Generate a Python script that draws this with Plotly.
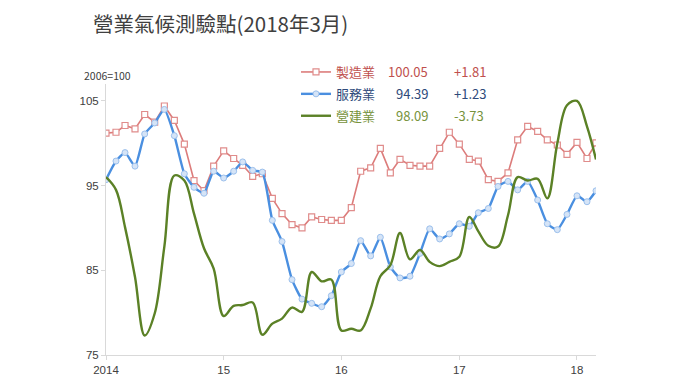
import plotly.graph_objects as go
import pandas as pd

months = pd.date_range("2014-01-01", "2018-03-01", freq="MS").strftime("%Y-%m-%d").tolist()

manufacturing = [101.2, 101.3, 102.1, 101.7, 103.4, 102.5, 104.4, 102.7, 99.9, 95.6,
                 94.4, 97.3, 99.1, 98.2, 97.4, 96.1, 96.4, 93.5, 91.7, 90.4,
                 90.0, 91.3, 91.0, 90.9, 90.9, 92.4, 96.7, 97.1, 99.4, 96.5,
                 98.1, 97.4, 97.3, 97.3, 99.4, 101.3, 99.9, 98.1, 97.9, 95.7,
                 95.5, 96.5, 100.4, 102.0, 101.4, 100.4, 99.8, 98.7, 100.1, 98.2,
                 100.05]
services = [95.7, 97.9, 98.9, 97.3, 101.1, 102.4, 104.0, 100.9, 96.4, 94.8,
            94.1, 96.7, 95.9, 96.7, 97.8, 96.8, 96.6, 90.9, 88.4, 83.9,
            81.6, 81.1, 80.7, 82.0, 84.8, 85.8, 88.5, 86.7, 88.9, 85.4,
            84.1, 84.3, 87.0, 89.9, 88.7, 89.3, 90.5, 90.2, 91.8, 92.3,
            94.9, 95.5, 94.5, 95.5, 93.3, 90.5, 89.8, 91.6, 93.8, 93.1,
            94.39]
construction = [96.0, 94.5, 90.1, 84.2, 77.3, 79.9, 87.8, 96.2, 95.6, 91.7,
                87.6, 85.2, 79.6, 80.8, 80.9, 81.2, 77.4, 78.7, 79.3, 80.6,
                80.1, 84.8, 83.7, 83.9, 77.9, 78.1, 77.9, 80.5, 84.3, 85.6,
                89.4, 86.3, 87.4, 86.0, 85.5, 86.0, 86.6, 91.3, 89.6, 87.9,
                87.8, 91.5, 96.0, 95.6, 95.8, 93.5, 100.0, 104.5, 105.0, 102.0,
                98.09]

series_names = ["製造業", "服務業", "營建業"]
latest_values = ["100.05", "94.39", "98.09"]
changes = ["+1.81", "+1.23", "-3.73"]
text_colors = ["#C0504D", "#2E4A7A", "#77933C"]

x_tickvals = ["2014-01-01", "2015-01-01", "2016-01-01", "2017-01-01", "2018-01-01"]
x_ticktext = ["2014", "15", "16", "17", "18"]
y_tickvals = [75, 85, 95, 105]

FONT = "Noto Sans CJK TC"

fig = go.Figure()
fig.add_trace(go.Scatter(
    x=months, y=manufacturing, mode="lines+markers",
    name=f"<span style='color:{text_colors[0]}'>{series_names[0]}</span>",
    line=dict(color="#DC7C7B", width=1.6),
    marker=dict(symbol="square", size=6, color="white",
                line=dict(color="#E08C8B", width=1.2)),
    legendgroup="a",
))
fig.add_trace(go.Scatter(
    x=months, y=services, mode="lines+markers",
    name=f"<span style='color:{text_colors[1]}'>{series_names[1]}</span>",
    line=dict(color="#4A8FE0", width=2.4, shape="spline", smoothing=0.5),
    marker=dict(symbol="circle", size=6, color="#D5E4F7",
                line=dict(color="#9CC0EC", width=1)),
    legendgroup="b",
))
fig.add_trace(go.Scatter(
    x=months, y=construction, mode="lines",
    name=f"<span style='color:{text_colors[2]}'>{series_names[2]}</span>",
    line=dict(color="#5B8126", width=2.4, shape="spline", smoothing=1.0),
    legendgroup="c",
))

# page renders figure offset by 8px (body margin); compensate
OFF = 8
W, H = 680, 383
L = 106 - OFF
T = 84 - OFF
pw, ph = 490, 271
R = W - L - pw
B = H - T - ph

def px_x(px):
    return (px - OFF - L) / pw

def px_y(py):
    return (T + ph - (py - OFF)) / ph

row_y = [71, 93, 116]
annotations = []
for i in range(3):
    annotations.append(dict(x=px_x(430), y=px_y(row_y[i]), xref="paper", yref="paper",
                            text=latest_values[i], showarrow=False, xanchor="right",
                            yanchor="middle", font=dict(size=13, color=text_colors[i], family=FONT)))
    annotations.append(dict(x=px_x(452), y=px_y(row_y[i]), xref="paper", yref="paper",
                            text=changes[i], showarrow=False, xanchor="left",
                            yanchor="middle", font=dict(size=13, color=text_colors[i], family=FONT)))
annotations.append(dict(x=px_x(107), y=px_y(76), xref="paper", yref="paper",
                        text="2006=100", showarrow=False, xanchor="center", yanchor="middle",
                        font=dict(size=10.5, color="#404040", family=FONT)))

fig.update_layout(
    width=W, height=H,
    margin=dict(l=L, r=R, t=T, b=B),
    paper_bgcolor="white", plot_bgcolor="white",
    font=dict(family=FONT, color="#404040"),
    title=dict(text="營業氣候測驗點(2018年3月)", x=(93 - OFF) / W, xanchor="left", xref="container",
               y=1 - (25 - OFF) / H, yanchor="middle", yref="container",
               font=dict(size=20.5, color="#404040", family=FONT)),
    showlegend=True,
    legend=dict(x=px_x(296), y=px_y(57), xanchor="left", yanchor="top",
                bgcolor="rgba(0,0,0,0)", font=dict(size=13, family=FONT),
                tracegroupgap=2, itemwidth=30),
    annotations=annotations,
    xaxis=dict(range=["2014-01-01", "2018-03-01"], tickvals=x_tickvals, ticktext=x_ticktext,
               showgrid=False, zeroline=False, showline=True, linecolor="#D9D9D9", linewidth=1,
               ticks="outside", ticklen=4, tickcolor="#D9D9D9",
               tickfont=dict(size=11.5, color="#404040", family="Liberation Sans")),
    yaxis=dict(range=[75, 107], tickvals=y_tickvals, showgrid=False, zeroline=False,
               showline=True, linecolor="#D9D9D9", linewidth=1,
               ticks="outside", ticklen=4, tickcolor="#D9D9D9",
               tickfont=dict(size=11.5, color="#404040", family="Liberation Sans")),
)

fig.write_html("out.html")
